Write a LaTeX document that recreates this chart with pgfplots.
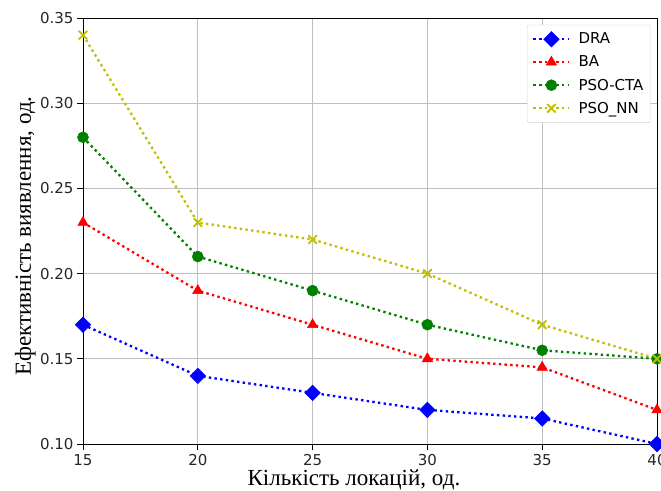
\documentclass[border=0pt]{standalone}
\usepackage{fontspec}
\setmainfont{Liberation Serif}
\newfontfamily\tickfont{DejaVu Sans}
\usepackage{pgfplots}
\pgfplotsset{compat=1.18}
\begin{document}
\begin{tikzpicture}
\begin{axis}[
    name=ax,
    scale only axis,
    width=574pt, height=426pt,
    xmin=15, xmax=40, ymin=0.10, ymax=0.35,
    xtick={15,20,25,30,35,40},
    ytick={0.10,0.15,0.20,0.25,0.30,0.35},
    /pgf/number format/assume math mode=true,
    yticklabel style={/pgf/number format/.cd, fixed, fixed zerofill, precision=2},
    tick label style={font=\fontsize{15}{16}\tickfont, color=black!85},
    xticklabel style={yshift=-1pt},
    tick align=outside, tick pos=left,
    major tick length=6pt,
    tick style={black, line width=0.8pt},
    axis line style={line width=0.8pt},
    grid=major,
    grid style={gray!50, line width=0.9pt},
    xlabel={Кількість локацій, од.},
    ylabel={Ефективність виявлення, од.},
    label style={font=\fontsize{23}{24}\selectfont},
    xlabel style={at={(axis description cs:0.472,-0.0975)}, anchor=base},
    ylabel style={at={(axis description cs:-0.0906,0.488)}, anchor=base},
    clip=false,
    legend style={at={(0.989,0.984)}, anchor=north east, font=\fontsize{15}{16}\tickfont,
                  draw=gray!35, rounded corners=2pt, row sep=6.5pt, column sep=6pt,
                  inner xsep=5pt, inner ysep=6pt},
    legend cell align={left},
    legend image code/.code={
        \draw[mark repeat=2, mark phase=2] plot coordinates {(0pt,0pt) (18pt,0pt) (36pt,0pt)};
    },
    every axis plot/.append style={line width=2.3pt, dash pattern=on 2.4pt off 3.3pt},
]
\addplot[color=blue, mark=square*, mark size=5.5pt, mark options={solid, rotate=45, line width=0.5pt}] coordinates {
    (15,0.17) (20,0.14) (25,0.13) (30,0.12) (35,0.115) (40,0.10)
};
\addplot[color=red, mark=triangle*, mark size=6pt, mark options={solid, line width=0.5pt}] coordinates {
    (15,0.23) (20,0.19) (25,0.17) (30,0.15) (35,0.145) (40,0.12)
};
\addplot[color={rgb,1:red,0;green,0.5;blue,0}, mark=*, mark size=5.5pt, mark options={solid, line width=0.5pt}] coordinates {
    (15,0.28) (20,0.21) (25,0.19) (30,0.17) (35,0.155) (40,0.15)
};
\addplot[color={rgb,1:red,0.75;green,0.75;blue,0}, mark=x, mark size=6pt, mark options={solid, line width=1.8pt}] coordinates {
    (15,0.34) (20,0.23) (25,0.22) (30,0.20) (35,0.17) (40,0.15)
};
\legend{DRA, BA, PSO-CTA, PSO\_NN}
\end{axis}
\pgfresetboundingbox
\path (ax.south west) ++(-83pt,-46pt) rectangle ++(661pt,490pt);
\end{tikzpicture}
\end{document}
